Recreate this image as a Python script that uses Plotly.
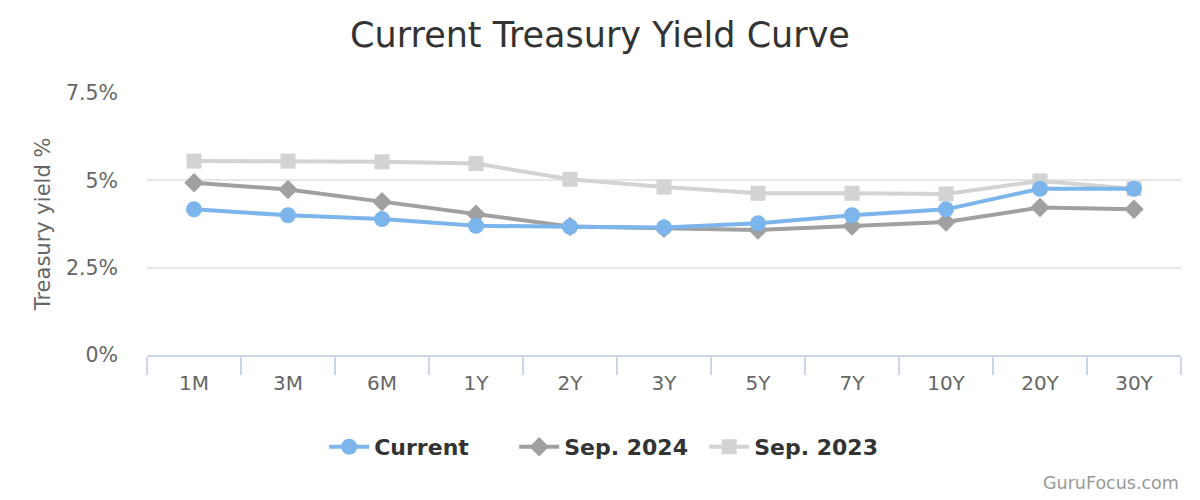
import plotly.graph_objects as go

categories = ["1M", "3M", "6M", "1Y", "2Y", "3Y", "5Y", "7Y", "10Y", "20Y", "30Y"]
current = [4.17, 4.00, 3.89, 3.70, 3.67, 3.65, 3.77, 4.00, 4.17, 4.76, 4.76]
sep_2024 = [4.93, 4.74, 4.39, 4.03, 3.68, 3.63, 3.58, 3.69, 3.81, 4.22, 4.17]
sep_2023 = [5.55, 5.55, 5.53, 5.48, 5.03, 4.81, 4.63, 4.63, 4.61, 4.98, 4.76]
y_ticks = [0, 2.5, 5, 7.5]
y_tick_labels = ["0%", "2.5%", "5%", "7.5%"]

FONT = "DejaVu Sans"
# page body has an 8px default margin; compensate so the plot lands where the reference has it
OFF = 8

fig = go.Figure()
fig.add_trace(go.Scatter(
    x=categories, y=sep_2023, name="Sep. 2023", mode="lines+markers",
    line=dict(color="#d3d3d3", width=4),
    marker=dict(symbol="square", size=15, color="#d3d3d3"),
    legendrank=3,
))
fig.add_trace(go.Scatter(
    x=categories, y=sep_2024, name="Sep. 2024", mode="lines+markers",
    line=dict(color="#a0a0a0", width=4),
    marker=dict(symbol="diamond", size=15, color="#a0a0a0"),
    legendrank=2,
))
fig.add_trace(go.Scatter(
    x=categories, y=current, name="Current", mode="lines+markers",
    line=dict(color="#7cb5ec", width=4),
    marker=dict(symbol="circle", size=16, color="#7cb5ec"),
    legendrank=1,
))

fig.update_layout(
    width=1200, height=500,
    paper_bgcolor="white", plot_bgcolor="white",
    margin=dict(l=147 - OFF, r=19 + OFF, t=93 - OFF, b=145 + OFF),
    font=dict(family=FONT, color="#666666"),
    title=dict(
        text="Current Treasury Yield Curve",
        x=(600 - OFF) / 1200, xanchor="center", xref="container",
        y=1 - (35 - OFF) / 500, yanchor="middle", yref="container",
        font=dict(family=FONT, size=35, color="#333333"),
    ),
    showlegend=True,
    legend=dict(
        orientation="h", x=0.447, xanchor="center",
        y=-0.351, yanchor="middle",
        font=dict(family=FONT, size=22, color="#333333", weight="bold"),
        itemwidth=40,
        entrywidth=135, entrywidthmode="pixels",
        traceorder="normal",
    ),
    xaxis=dict(
        type="category", range=[-0.5, 10.5],
        showgrid=False, showline=True, linecolor="#ccd6eb", linewidth=2,
        ticks="outside", tickson="boundaries", ticklen=18, tickcolor="#ccd6eb", tickwidth=2,
        ticklabelstandoff=9,
        tickfont=dict(family=FONT, size=20, color="#666666"),
        fixedrange=True,
    ),
    yaxis=dict(
        range=[0, 7.5],
        tickvals=y_ticks, ticktext=y_tick_labels,
        showgrid=True, gridcolor="#e6e6e6", gridwidth=2,
        zeroline=False, showline=False,
        ticks="", ticklabelstandoff=28,
        tickfont=dict(family=FONT, size=20.5, color="#666666"),
        title=dict(text="Treasury yield %", font=dict(family=FONT, size=21, color="#666666"), standoff=9),
    ),
)

fig.add_annotation(
    text="GuruFocus.com", xref="paper", yref="paper",
    x=1.0, y=-0.489, xanchor="right", yanchor="middle", showarrow=False,
    font=dict(family=FONT, size=17.5, color="#999999"),
)

fig.write_html("out.html")
